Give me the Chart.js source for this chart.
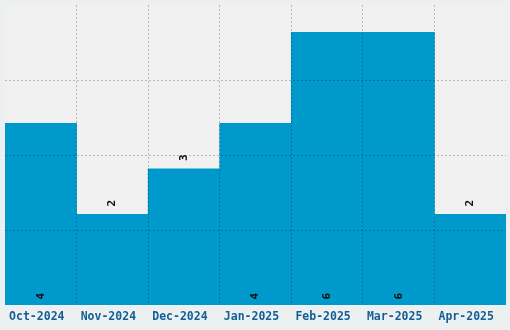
<!DOCTYPE html>
<html><head><meta charset="utf-8">
<script src="https://cdn.jsdelivr.net/npm/chart.js@4/dist/chart.umd.min.js"></script>
<style>html,body{margin:0;padding:0;background:#ecf0f1;}#wrap{width:510px;height:330px;position:relative;}</style>
</head><body><div id="wrap"><canvas id="c"></canvas></div>
<script>
const categories = ["Oct-2024","Nov-2024","Dec-2024","Jan-2025","Feb-2025","Mar-2025","Apr-2025"];
const values = [4,2,3,4,6,6,2];
const yTicks = [0,1.65,3.3,4.95,6.6];

const bgPlugin = {
  id:'bg',
  beforeDraw(chart){
    const {ctx, chartArea:a} = chart;
    ctx.save(); ctx.fillStyle='#f1f1f1';
    ctx.fillRect(a.left,a.top,a.right-a.left,a.bottom-a.top); ctx.restore();
  }
};
const labelPlugin = {
  id:'vlabels',
  afterDraw(chart){
    const {ctx} = chart;
    const meta = chart.getDatasetMeta(0);
    const y = chart.scales.y;
    ctx.save();
    ctx.fillStyle='#111';
    ctx.font='bold 11px "DejaVu Sans Mono", monospace';
    ctx.textAlign='center'; ctx.textBaseline='middle';
    meta.data.forEach((bar,i)=>{
      const v = values[i];
      let py;
      if (v >= 4) py = y.getPixelForValue(0) - 9;
      else py = y.getPixelForValue(v) - 11;
      ctx.save();
      ctx.translate(bar.x, py);
      ctx.rotate(-Math.PI/2);
      ctx.fillText(String(v),0,0);
      ctx.restore();
    });
    ctx.restore();
  }
};
const gcol = 'rgba(0,0,0,0.24)';
const none = 'rgba(0,0,0,0)';
new Chart(document.getElementById('c'),{
  type:'bar',
  data:{labels:categories,datasets:[{data:values,backgroundColor:'#0099cc',borderWidth:0,categoryPercentage:1,barPercentage:1}]},
  options:{
    responsive:true,maintainAspectRatio:false,animation:false,
    layout:{padding:{left:5,right:4,top:5,bottom:1}},
    plugins:{legend:{display:false},tooltip:{enabled:false}},
    scales:{
      x:{grid:{color:(c)=>(c.type!=='tick'||c.index===0)?none:gcol,z:1,drawTicks:false},
         border:{display:false,dash:[2,2]},
         ticks:{padding:5,labelOffset:-4,color:'#145e95',font:{family:'"DejaVu Sans Mono", monospace',size:11.5,weight:'bold'}}},
      y:{min:0,max:6.6,afterBuildTicks(s){s.ticks=yTicks.map(v=>({value:v}));},
         grid:{color:(c)=>(c.type!=='tick'||c.index===0||c.index===yTicks.length-1)?none:gcol,z:1,drawTicks:false},
         border:{display:false,dash:[2,2]},
         ticks:{display:false}}
    }
  },
  plugins:[bgPlugin,labelPlugin]
});
</script></body></html>
